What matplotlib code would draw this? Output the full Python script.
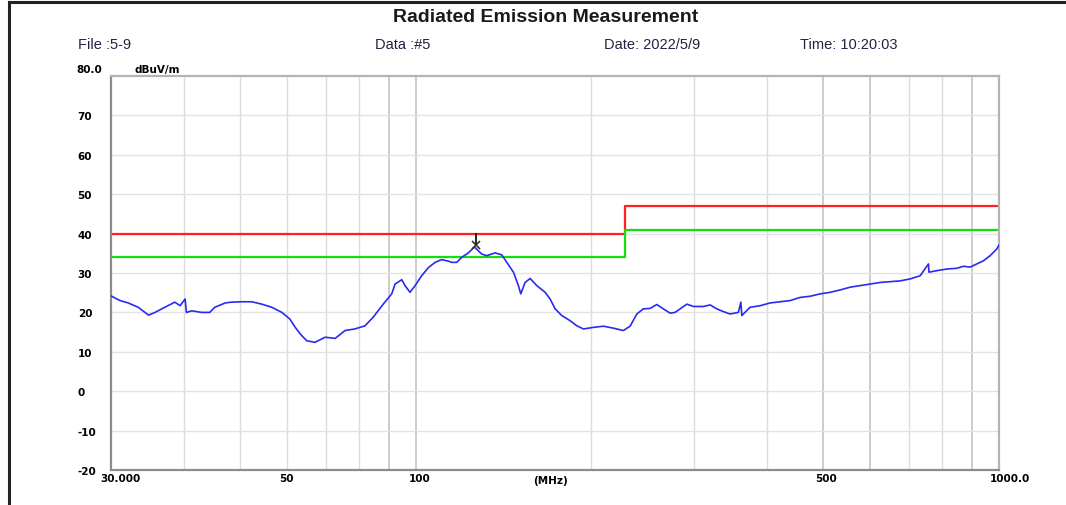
#! /usr/bin/env python
import matplotlib
matplotlib.use('Agg')
import matplotlib.pyplot as plt, numpy as np
from matplotlib.lines import Line2D
from matplotlib.transforms import ScaledTranslation

"""
Radiated emission scan, 30 MHz - 1 GHz, with limit / margin lines
"""

freq = [30.0, 30.7, 31.1, 32.1, 33.4, 34.8, 35.7, 37.1, 38.6, 39.4, 40.2, 40.4,
        41.3, 42.9, 44.3, 45.2, 47.1, 48.3, 50.3, 52.3, 54.4, 56.6, 58.9, 60.8,
        62.1, 63.3, 64.1, 65.0, 67.1, 69.9, 72.7, 75.6, 78.6, 81.8, 84.5, 87.9,
        90.9, 92.1, 94.6, 95.8, 97.7, 99.7, 102.3, 105.1, 107.9, 110.7, 113.7,
        115.2, 117.5, 119.9, 123.0, 126.0, 129.7, 132.3, 136.7, 140.4, 143.2,
        147.0, 149.9, 151.3, 153.9, 157.0, 161.2, 166.6, 169.9, 173.3, 177.9,
        183.8, 188.8, 193.8, 201.6, 209.7, 218.1, 226.9, 233.0, 239.3, 245.5,
        252.1, 258.9, 265.7, 272.9, 278.3, 283.9, 291.5, 299.2, 311.2, 319.6,
        328.1, 336.8, 345.8, 357.3, 360.8, 362.2, 374.2, 389.3, 405.1, 421.4,
        438.4, 455.9, 474.4, 493.4, 513.4, 534.1, 555.5, 577.8, 601.3, 625.4,
        650.8, 676.9, 704.3, 732.5, 756.9, 758.5, 782.5, 813.8, 846.7, 868.9,
        892.2, 916.2, 940.4, 965.6, 991.4, 1000.0]
level = [24.2, 23.4, 23.0, 22.4, 21.3, 19.3, 20.0, 21.3, 22.6, 21.7, 23.4, 20.0,
         20.4, 20.0, 20.0, 21.3, 22.4, 22.6, 22.7, 22.7, 22.1, 21.3, 20.0, 18.3,
         16.2, 14.6, 13.7, 12.8, 12.4, 13.7, 13.4, 15.4, 15.8, 16.6, 18.8, 22.1,
         24.7, 27.2, 28.3, 26.8, 25.1, 26.8, 29.3, 31.4, 32.7, 33.4, 33.0,
         32.7, 32.7, 34.0, 35.1, 36.6, 34.8, 34.4, 35.1, 34.6, 32.7,
         30.2, 26.8, 24.7, 27.6, 28.6, 26.8, 25.1, 23.4, 20.9, 19.2,
         17.9, 16.6, 15.8, 16.2, 16.5, 16.0, 15.4, 16.5, 19.6, 20.9,
         21.0, 22.0, 20.9, 19.8, 20.0, 20.9, 22.1, 21.5, 21.5, 21.9,
         20.9, 20.2, 19.6, 20.0, 22.6, 19.2, 21.3, 21.7, 22.4, 22.7,
         23.0, 23.8, 24.1, 24.7, 25.1, 25.7, 26.4, 26.8, 27.2, 27.6,
         27.8, 28.0, 28.5, 29.3, 32.3, 30.2, 30.6, 31.0, 31.2, 31.7,
         31.5, 32.3, 33.1, 34.4, 36.1, 37.1]

# limit and margin (step at 230 MHz)
lim_freq = [30, 228, 1000]
limit = [40, 47, 47]
margin = [34, 41, 41]

# peak marker
peak_f, peak_v = 126.8, 37.1

W, H = 1066, 506
fig = plt.figure(figsize=(W/100., H/100.), dpi=100, facecolor='w')
ax = fig.add_axes([111./W, 1-471./H, 888./W, 394./H])

ax.set_xscale('log')
ax.set_xlim(30, 1000)
ax.set_ylim(-20, 80)

# grid
for f in [40, 50, 60, 70, 80, 200, 300, 400, 700, 800]:
    ax.axvline(f, c='#dcdcdc', lw=1.0, zorder=0)
for f in [90, 100, 500, 600, 900]:
    ax.axvline(f, c='#c4c4c4', lw=1.2, zorder=0)
for v in range(-10, 80, 10):
    ax.axhline(v, c='#e2e2e2', lw=1.0, zorder=0)

ax.plot(freq, level, c='#2a2af0', lw=1.2, zorder=3)
ax.plot(lim_freq, limit, c='#ff2020', lw=1.6, drawstyle='steps-post', zorder=2)
ax.plot(lim_freq, margin, c='#10e010', lw=1.6, drawstyle='steps-post', zorder=2)
ax.plot([peak_f, peak_f], [40, peak_v], c='k', lw=1.2, zorder=4)
ax.plot(peak_f, peak_v, marker='x', c='#333333', ms=6, mew=1.2, zorder=5)

for s in ['left', 'bottom']:
    ax.spines[s].set_color('#8c8c8c')
    ax.spines[s].set_linewidth(1.6)
for s in ['top', 'right']:
    ax.spines[s].set_color('#b4b4b4')
    ax.spines[s].set_linewidth(1.6)

fnt = dict(family='DejaVu Sans', weight='bold', size=7.5)

yt = list(range(-20, 80, 10))
ax.set_yticks(yt)
ax.set_yticklabels([str(v) for v in yt], ha='left', **fnt)
ax.tick_params(axis='y', length=0, pad=24)
ax.text(-0.039, 1.005, '80.0', transform=ax.transAxes, ha='left', va='bottom', **fnt)
ax.text(0.026, 1.005, 'dBuV/m', transform=ax.transAxes, ha='left', va='bottom', **fnt)

# x labels as the analyser prints them
xt = [30, 60, 100, 500, 1000]
ax.set_xticks(xt)
ax.set_xticklabels(['30.000', '50', '100', '500', '1000.0'], **fnt)
ax.xaxis.set_minor_locator(plt.NullLocator())
ax.tick_params(axis='x', length=0, pad=2)
for lab, dx in zip(ax.get_xticklabels(), [9, 0, 4, 3, 11]):
    lab.set_transform(lab.get_transform() + ScaledTranslation(dx/100., 0, fig.dpi_scale_trans))
ax.text(170, -0.012, '(MHz)', transform=ax.get_xaxis_transform(), ha='center', va='top', **fnt)

# header
fig.text(546./W, 1-18./H, 'Radiated Emission Measurement', ha='center', va='center',
         family='Liberation Sans', weight='bold', size=14, color='#1a1a1a')
hdr = dict(family='Liberation Sans', size=10.5, va='center', color='#222244')
fig.text(78./W, 1-45./H, 'File :5-9', **hdr)
fig.text(375./W, 1-45./H, 'Data :#5', **hdr)
fig.text(604./W, 1-45./H, 'Date: 2022/5/9', **hdr)
fig.text(800./W, 1-45./H, 'Time: 10:20:03', **hdr)

# outer frame
fig.add_artist(Line2D([9./W, 9./W], [0, 1-3./H], c='#222222', lw=2.2))
fig.add_artist(Line2D([9./W, 1], [1-3./H, 1-3./H], c='#222222', lw=2.2))

plt.savefig('out.png', dpi=100, facecolor='w')
